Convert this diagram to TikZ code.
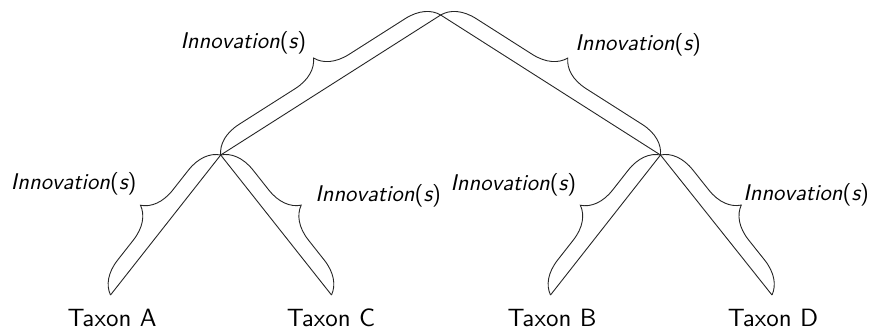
\documentclass[tikz,border=0pt]{standalone}
\usetikzlibrary{decorations.pathreplacing}
\begin{document}
\begin{tikzpicture}[x=1pt,y=-1pt,
  edge/.style={line width=0.9pt, draw=black!85},
  bracepath/.style={line width=0.9pt, draw=black!85, decorate, decoration={brace, amplitude=32pt}},
  innov/.style={inner sep=0pt, scale=2.27, font=\fontsize{10}{12}\selectfont\sffamily},
  taxon/.style={inner sep=0pt, anchor=base, scale=2.5, font=\fontsize{10}{12}\selectfont\sffamily}]
\useasboundingbox (0,0) rectangle (871,330);
% tree vertices
\coordinate (root) at (440.7,15);
\coordinate (L) at (220.7,155);
\coordinate (R) at (660.5,155);
\coordinate (A) at (110.5,295);
\coordinate (C) at (331.5,295);
\coordinate (B) at (550.5,295);
\coordinate (D) at (772,295);
% edges
\draw[edge] (L) -- (root);
\draw[edge] (root) -- (R);
\draw[edge] (A) -- (L);
\draw[edge] (L) -- (C);
\draw[edge] (B) -- (R);
\draw[edge] (R) -- (D);
% braces
\draw[bracepath] (L) -- (root);
\draw[bracepath] (root) -- (R);
\draw[bracepath] (A) -- (L);
\draw[bracepath] (L) -- (C);
\draw[bracepath] (B) -- (R);
\draw[bracepath] (R) -- (D);
% innovation labels
\node[innov, anchor=base east] (iLR) at (306.7,48.3) {{\itshape Innovation}({\itshape s})};
\node[innov, anchor=base west] (iRR) at (575,50) {{\itshape Innovation}({\itshape s})};
\node[innov, anchor=base east] (iA) at (137,189) {{\itshape Innovation}({\itshape s})};
\node[innov, anchor=base west] (iC) at (315,201.7) {{\itshape Innovation}({\itshape s})};
\node[innov, anchor=base east] (iB) at (576.7,190) {{\itshape Innovation}({\itshape s})};
\node[innov, anchor=base west] (iD) at (743,200) {{\itshape Innovation}({\itshape s})};
% taxon labels
\node[taxon] (tA) at (112,326.7) {Taxon A};
\node[taxon] (tC) at (331,326.7) {Taxon C};
\node[taxon] (tB) at (552,326.7) {Taxon B};
\node[taxon] (tD) at (773,326.7) {Taxon D};
\end{tikzpicture}
\end{document}
